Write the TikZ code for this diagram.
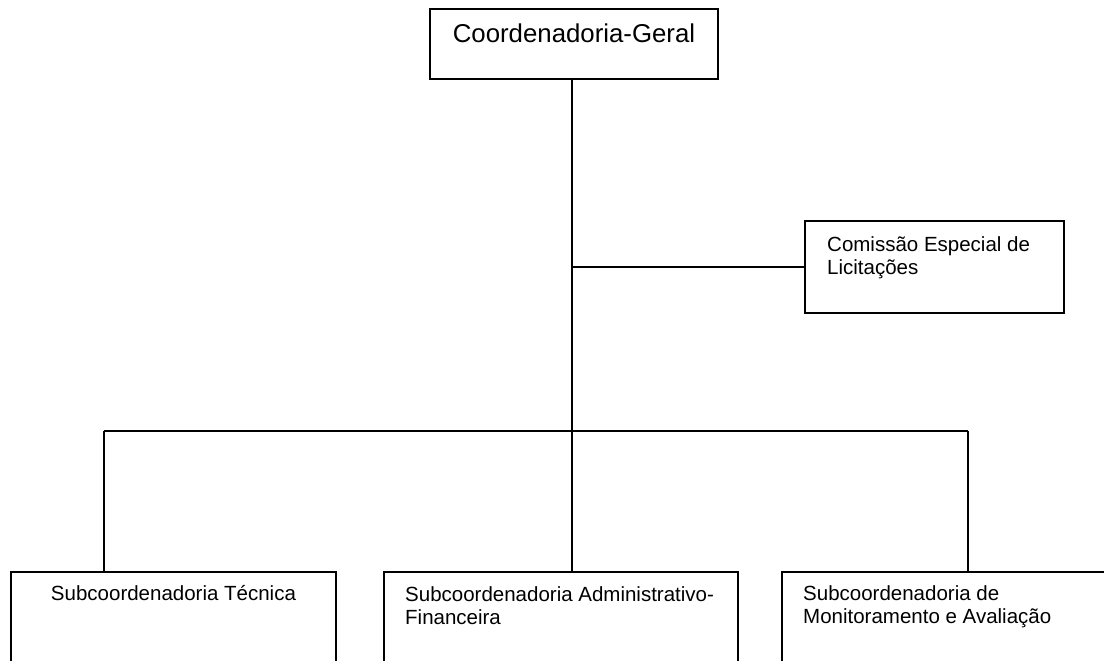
\documentclass[tikz,border=0pt]{standalone}
\usepackage{fontspec}
\setmainfont{Liberation Sans}
\begin{document}
\begin{tikzpicture}[x=1pt,y=-1pt,
  box/.style={draw, line width=1.6pt, inner sep=0pt, outer sep=0pt},
  conn/.style={line width=1.6pt},
  big/.style={font=\fontsize{25.8}{30}\selectfont, inner sep=0pt, anchor=base},
  txt/.style={font=\fontsize{20.5}{23}\selectfont, inner sep=0pt, align=left, anchor=base west},
  txtc/.style={font=\fontsize{20.5}{23}\selectfont, inner sep=0pt, anchor=base}]
\clip (0,0) rectangle (1104,661);
\fill[white] (0,0) rectangle (1104,661);
% boxes
\node[box, minimum width=288pt, minimum height=70pt] (cg) at (574,44) {};
\node[big] (cgt) at (574,43) {Coordenadoria-Geral};
\node[box, minimum width=259pt, minimum height=92pt] (ce) at (934.5,267) {};
\node[txt] (cet) at (827,274) {Comissão Especial de\\Licitações};
\node[box, minimum width=325pt, minimum height=140pt] (st) at (173.5,642) {};
\node[txtc] (stt) at (173.5,600) {Subcoordenadoria Técnica};
\node[box, minimum width=354pt, minimum height=140pt] (sa) at (561,642) {};
\node[txt] (sat) at (405,624) {Subcoordenadoria Administrativo-\\Financeira};
\node[box, minimum width=360pt, minimum height=140pt] (sm) at (962,642) {};
\node[txt] (smt) at (803,623) {Subcoordenadoria de\\Monitoramento e Avaliação};
% connectors
\coordinate (j) at (572,431);
\coordinate (bl) at (104,431);
\coordinate (br) at (968,431);
\draw[conn] (cg.south -| j) -- (j);
\draw[conn] (ce.west -| j) -- (ce.west);
\draw[conn] (bl) -- (br);
\draw[conn] (bl) -- (bl |- st.north);
\draw[conn] (j) -- (j |- sa.north);
\draw[conn] (br) -- (br |- sm.north);
\end{tikzpicture}
\end{document}
